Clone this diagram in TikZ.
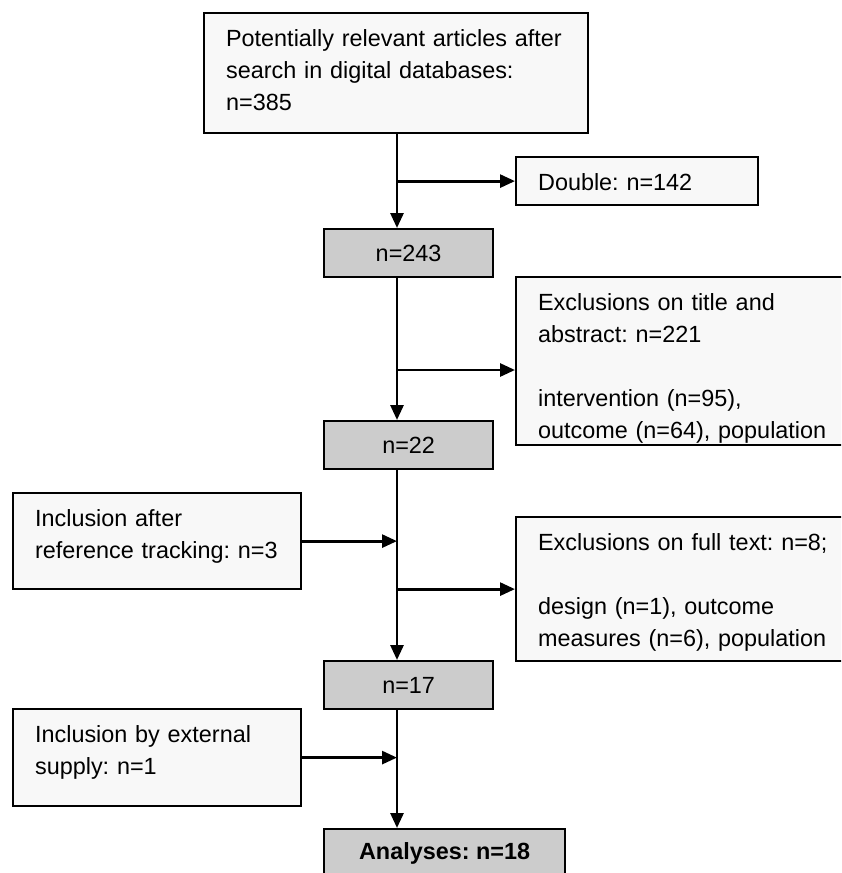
\documentclass[tikz,border=0pt]{standalone}
\usepackage{fontspec}
\setmainfont{Liberation Sans}
\usetikzlibrary{arrows.meta}
\frenchspacing

\begin{document}
\begin{tikzpicture}[x=0.5pt,y=-0.5pt,line join=miter,
  font=\fontsize{11.7}{16}\selectfont,
  flowline/.style={line width=1.4pt,-{Triangle[length=7.5pt,width=6.5pt]}},
  notebox/.style={draw,line width=1.1pt,fill=notewhite,anchor=north west,align=left,inner xsep=11pt,inner ysep=0pt,text height=16.5pt},
  countbox/.style={draw,line width=1.1pt,fill=countgray,anchor=north west,align=center,inner sep=0pt}]

  % ---- reference values (image pixels, y downwards) ----
  \def\px{0.5pt}          % one pixel
  \def\spineX{397}        % main vertical flow line
  \def\countW{169}        % width of the grey count boxes
  \def\countH{48}         % height of the grey count boxes

  \definecolor{notewhite}{RGB}{248,248,248}
  \definecolor{countgray}{RGB}{204,204,204}

  % ---- frame ----
  \useasboundingbox (0,0) rectangle (841,873);
  \clip (0,0) rectangle (841,873);

  % ---- main column ----
  \node[notebox,text depth=43.5pt,text width=340*\px] (search) at (203,12)
    {Potentially relevant articles after\\search in digital databases:\\n=385};
  \node[countbox,minimum width=\countW*\px,minimum height=\countH*\px] (n243) at (323,228) {n=243};
  \node[countbox,minimum width=\countW*\px,minimum height=\countH*\px] (n22) at (323,420) {n=22};
  \node[countbox,minimum width=\countW*\px,minimum height=\countH*\px] (n17) at (323,660) {n=17};
  \node[countbox,minimum width=241*\px,minimum height=\countH*\px] (analyses) at (323,828) {\textbf{Analyses: n=18}};

  % ---- exclusions (right side) ----
  \node[notebox,text depth=7.5pt,text width=198*\px] (double) at (515,156) {Double: n=142};
  \node[notebox,text depth=67.5pt,text width=301*\px] (excl1) at (515,276)
    {Exclusions on title and\\abstract: n=221\\[16pt]intervention (n=95),\\outcome (n=64), population};
  \node[notebox,text depth=55.5pt,text width=301*\px] (excl2) at (515,516)
    {Exclusions on full text: n=8;\\[16pt]design (n=1), outcome\\measures (n=6), population};

  % ---- inclusions (left side) ----
  \node[notebox,text depth=31.5pt,text width=244*\px] (incl1) at (12,492)
    {Inclusion after\\reference tracking: n=3};
  \node[notebox,text depth=32pt,text width=244*\px] (incl2) at (12,708)
    {Inclusion by external\\supply: n=1};

  % ---- flow lines ----
  \coordinate (spine) at (\spineX,0);
  \coordinate (cut1) at (\spineX,370);
  \draw[flowline] (search.south -| spine) -- (n243.north -| spine);
  \draw[flowline] (n243.south -| spine) -- (n22.north -| spine);
  \draw[flowline] (n22.south -| spine) -- (n17.north -| spine);
  \draw[flowline] (n17.south -| spine) -- (analyses.north -| spine);

  \draw[flowline] (double.west -| spine) -- (double.west);
  \draw[flowline] (cut1) -- (cut1 -| excl1.west);
  \draw[flowline] (excl2.west -| spine) -- (excl2.west);

  \draw[flowline] (incl1.east) -- (incl1.east -| spine);
  \draw[flowline] (incl2.east) -- (incl2.east -| spine);

\end{tikzpicture}
\end{document}
